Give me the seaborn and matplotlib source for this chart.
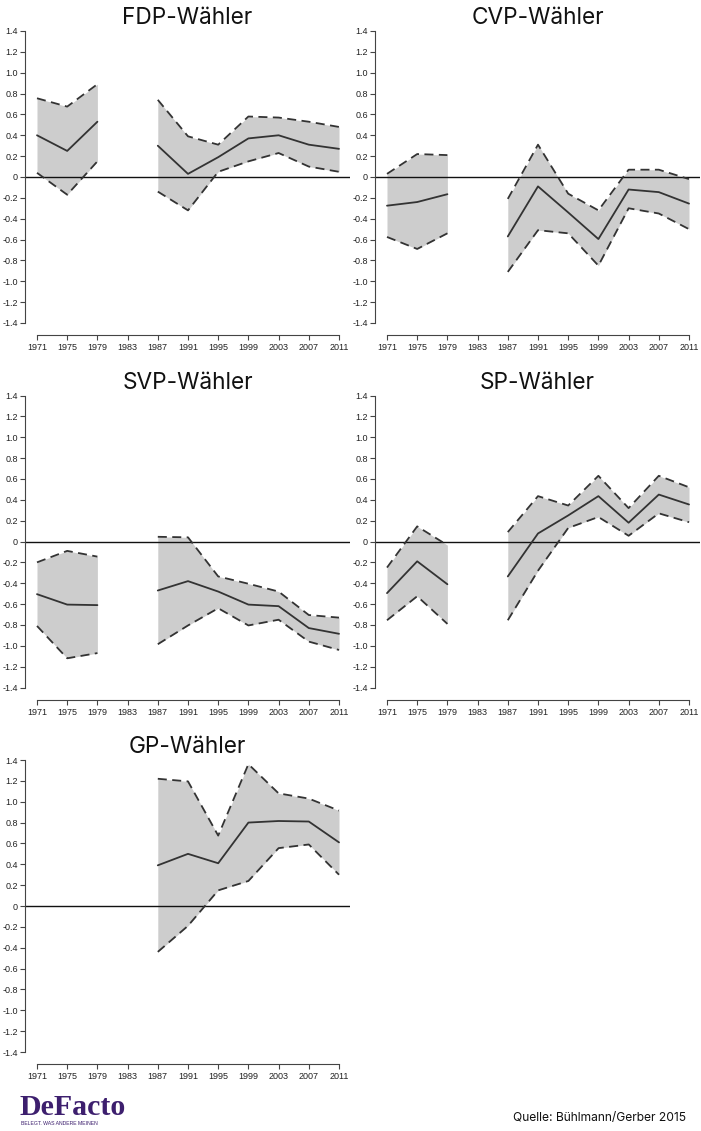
import numpy as np
import pandas as pd
import matplotlib
matplotlib.use("Agg")
import matplotlib.pyplot as plt
import seaborn as sns

# --- data -------------------------------------------------------------
years = [1971, 1975, 1979, 1983, 1987, 1991, 1995, 1999, 2003, 2007, 2011]
nan = np.nan

fdp_mean  = [0.40, 0.25, 0.53, nan, 0.30, 0.03, 0.19, 0.37, 0.40, 0.31, 0.27]
fdp_upper = [0.755, 0.675, 0.89, nan, 0.74, 0.39, 0.31, 0.58, 0.57, 0.53, 0.48]
fdp_lower = [0.04, -0.17, 0.15, nan, -0.14, -0.32, 0.05, 0.15, 0.23, 0.10, 0.05]

cvp_mean  = [-0.275, -0.24, -0.165, nan, -0.57, -0.09, -0.34, -0.595, -0.12, -0.145, -0.255]
cvp_upper = [0.03, 0.22, 0.21, nan, -0.21, 0.31, -0.16, -0.32, 0.07, 0.07, -0.02]
cvp_lower = [-0.575, -0.69, -0.54, nan, -0.91, -0.51, -0.54, -0.85, -0.30, -0.35, -0.50]

svp_mean  = [-0.505, -0.605, -0.61, nan, -0.47, -0.38, -0.48, -0.605, -0.62, -0.83, -0.885]
svp_upper = [-0.20, -0.09, -0.145, nan, 0.045, 0.04, -0.335, -0.405, -0.48, -0.705, -0.73]
svp_lower = [-0.81, -1.12, -1.07, nan, -0.985, -0.805, -0.64, -0.805, -0.75, -0.96, -1.04]

sp_mean  = [-0.495, -0.19, -0.41, nan, -0.335, 0.077, 0.25, 0.435, 0.18, 0.45, 0.355]
sp_upper = [-0.25, 0.145, -0.035, nan, 0.09, 0.435, 0.345, 0.63, 0.32, 0.63, 0.52]
sp_lower = [-0.755, -0.525, -0.79, nan, -0.755, -0.28, 0.13, 0.235, 0.055, 0.27, 0.185]

gp_mean  = [nan, nan, nan, nan, 0.39, 0.50, 0.41, 0.80, 0.815, 0.81, 0.61]
gp_upper = [nan, nan, nan, nan, 1.22, 1.195, 0.675, 1.36, 1.08, 1.03, 0.915]
gp_lower = [nan, nan, nan, nan, -0.44, -0.19, 0.15, 0.24, 0.555, 0.59, 0.30]

panels = [
    ("FDP-Wähler", fdp_mean, fdp_upper, fdp_lower),
    ("CVP-Wähler", cvp_mean, cvp_upper, cvp_lower),
    ("SVP-Wähler", svp_mean, svp_upper, svp_lower),
    ("SP-Wähler", sp_mean, sp_upper, sp_lower),
    ("GP-Wähler", gp_mean, gp_upper, gp_lower),
]
yticks = [1.4, 1.2, 1.0, 0.8, 0.6, 0.4, 0.2, 0, -0.2, -0.4, -0.6, -0.8, -1.0, -1.2, -1.4]
ytick_labels = ["1.4", "1.2", "1.0", "0.8", "0.6", "0.4", "0.2", "0", "-0.2", "-0.4",
                "-0.6", "-0.8", "-1.0", "-1.2", "-1.4"]

# --- style ------------------------------------------------------------
sns.set_theme(style="white")
plt.rcParams['font.family'] = ['Liberation Sans', 'DejaVu Sans']

W, H = 701, 1131
fig = plt.figure(figsize=(W / 100, H / 100), dpi=100)

LINE = '#333333'
FILL = '#cdcdcd'
PURPLE = '#3d1f6e'


def make_df(mean, upper, lower):
    df = pd.DataFrame({"year": years, "mean": mean, "upper": upper, "lower": lower})
    df = df.dropna().copy()
    # split into contiguous segments (gap at 1983)
    df["seg"] = (df["year"].diff() > 4).cumsum()
    return df


def draw_panel(rect_px, title, mean, upper, lower):
    left, top, right, bottom = rect_px
    ax = fig.add_axes([left / W, 1 - bottom / H, (right - left) / W, (bottom - top) / H])
    df = make_df(mean, upper, lower)

    for _, seg in df.groupby("seg"):
        ax.fill_between(seg["year"], seg["lower"], seg["upper"], color=FILL, lw=0, zorder=1)

    sns.lineplot(data=df, x="year", y="upper", units="seg", estimator=None, ax=ax,
                 color=LINE, lw=1.3, linestyle=(0, (5, 3)), zorder=3)
    sns.lineplot(data=df, x="year", y="lower", units="seg", estimator=None, ax=ax,
                 color=LINE, lw=1.3, linestyle=(0, (5, 3)), zorder=3)
    sns.lineplot(data=df, x="year", y="mean", units="seg", estimator=None, ax=ax,
                 color=LINE, lw=1.3, zorder=4)

    ax.axhline(0, color='#111111', lw=1.0, zorder=2)

    x_per_px = 40 / 302
    ax.set_xlim(1971 - 12 * x_per_px, 2011 + 11 * x_per_px)
    y_per_px = 2.8 / 292
    ax.set_ylim(-1.4 - 12 * y_per_px, 1.4)

    for s in ['top', 'right']:
        ax.spines[s].set_visible(False)
    for s in ['left', 'bottom']:
        ax.spines[s].set_color('#444444')
        ax.spines[s].set_linewidth(0.8)
    ax.spines['left'].set_bounds(-1.4, 1.4)
    ax.spines['bottom'].set_bounds(1971, 2011)

    ax.set_xticks(years)
    ax.set_xticklabels([str(y) for y in years])
    ax.set_yticks(yticks)
    ax.set_yticklabels(ytick_labels)
    ax.tick_params(axis='both', which='both', direction='out', length=3.5, width=0.8,
                   color='#444444', labelsize=6.5, labelcolor='#222222', pad=1.5,
                   left=True, bottom=True)
    ax.tick_params(axis='x', pad=2.5)
    ax.set_xlabel("")
    ax.set_ylabel("")
    ax.grid(False)
    ax.patch.set_alpha(0)

    ax.set_title(title, family=['Inter', 'DejaVu Sans'], fontsize=16.3, color='#111111',
                 pad=4.8)
    return ax


offset = 364.5
rects = [
    (25, 31, 350, 335),
    (375, 31, 700, 335),
    (25, 31 + offset, 350, 335 + offset),
    (375, 31 + offset, 700, 335 + offset),
    (25, 31 + 2 * offset, 350, 335 + 2 * offset),
]
for rect, (title, m, u, l) in zip(rects, panels):
    draw_panel(rect, title, m, u, l)

# --- footer -----------------------------------------------------------
fig.text(19 / W, 1 - 1115 / H, "DeFacto", family=['Liberation Serif', 'DejaVu Serif'],
         fontsize=21.5, fontweight='bold', color=PURPLE, va='baseline', ha='left')
fig.text(21 / W, 1 - 1125 / H, "BELEGT. WAS ANDERE MEINEN",
         family=['Liberation Sans Narrow', 'Liberation Sans'],
         fontsize=3.7, color=PURPLE, va='baseline', ha='left')
fig.text(686 / W, 1 - 1121 / H, "Quelle: Bühlmann/Gerber 2015", family=['Inter', 'DejaVu Sans'],
         fontsize=8.7, color='#111111', va='baseline', ha='right')

fig.savefig("out.png", dpi=100)
